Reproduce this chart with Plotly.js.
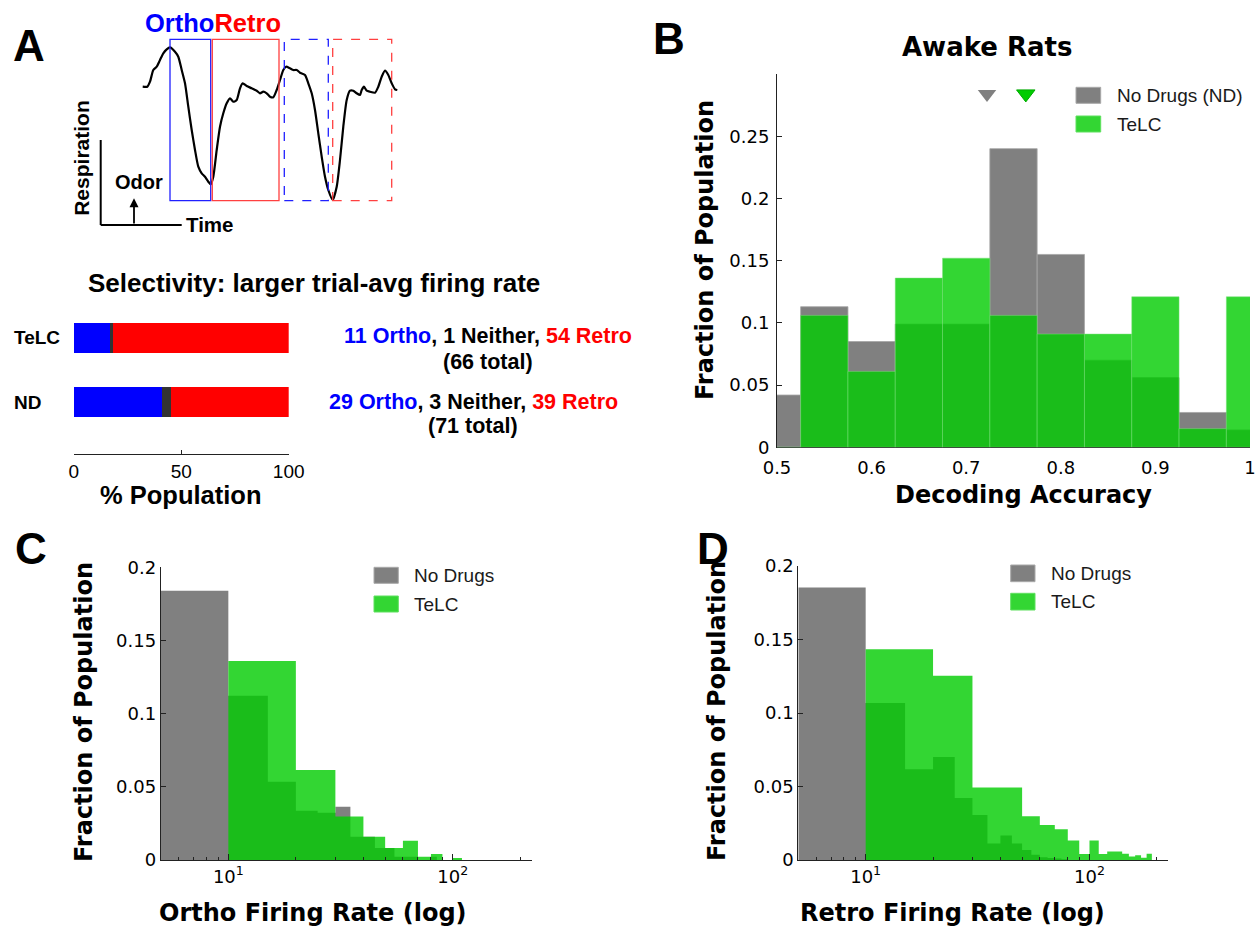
<!DOCTYPE html>
<html><head><meta charset="utf-8">
<script src="https://cdn.plot.ly/plotly-3.0.1.min.js"></script>
<style>html,body{margin:0;padding:0;background:#fff}#chart{width:1257px;height:926px}</style>
</head><body><div id="chart"></div>
<script>
// ---------------- DATA ----------------
// Panel A (top): respiration trace (time units, signal units)
const respTime = [82.7,87.3,90,93.3,96.7,100,103.3,106.7,110,115,118.3,121.7,125,128.3,131.7,135,138.3,141.7,145,148.3,150.7,153.3,156.7,160,163.3,166.7,170,173.3,176.7,180,182.7,186.7,191.7,196.7,200,203.3,206.7,210,213.3,216.7,220,223.3,226,230,233.3,236.7,240,245,248.3,251.7,255,258.3,261.7,265,268.3,272.7,276.7,280,283.3,286.7,290,293.3,296.7,300,301.7,304,306.7,310,315,318.3,321.7,325,328.3,331.7,335,337.3];
const respSignal = [113.3,113.3,118.3,130,133.3,140,146.7,150.7,152.7,148.3,143.3,130,116.7,93.3,70,50,33.3,26.7,23.3,18.3,15.7,23.3,50,73.3,86.7,96.7,101.7,98.3,100,111.7,116.7,114,111.7,109.3,106.7,108.3,106.7,103.3,102.7,110,120,130,133.3,131.7,130,130,127.3,125,116.7,106.7,90,66.7,43.3,23.3,10,0,13.3,40,73.3,100,109.3,109.3,106.7,105,110,113.3,109.3,108.3,107.3,113.3,123.3,129.3,125,116.7,110.7,110];
const orthoWindows = [[110,150.7],[224.3,268.3]];
const retroWindows = [[152.3,219],[272.7,331.7]];
const windowSignalRange = [-0.7,160.7];

// Panel A (bottom): selectivity counts
const groups = ['TeLC','ND'];
const orthoCounts = [11,29];
const neitherCounts = [1,3];
const retroCounts = [54,39];
const pctTicks = [0,50,100];

// Panel B: decoding accuracy histogram
const accBins = [0.5,0.55,0.6,0.65,0.7,0.75,0.8,0.85,0.9,0.95,1.0];
const ndAccFrac   = [0.042,0.113,0.085,0.099,0.099,0.240,0.155,0.070,0.056,0.028,0.014];
const telcAccFrac = [0,0.106,0.061,0.136,0.152,0.106,0.091,0.091,0.121,0.015,0.121];
const ndAccMean = 0.722, telcAccMean = 0.763;
const accTicks = [0.5,0.6,0.7,0.8,0.9,1];
const accTickText = ['0.5','0.6','0.7','0.8','0.9','1'];
const fracTicksB = [0,0.05,0.1,0.15,0.2,0.25,0.3];
const fracTickTextB = ['0','0.05','0.1','0.15','0.2','0.25',''];

// Panel C: ortho firing rate histogram (bin edges, Hz)
const ndOrthoEdges = [5,10,15,20,25,30,35,40,45,50,55,60,65,70,75,80,85];
const ndOrthoFrac  = [0.184,0.1123,0.0535,0.0337,0.0323,0.0364,0.0159,0.0159,0.0082,0.0082,0.0023,0.0023,0.0023,0,0,0.0023];
const telcOrthoEdges = [10,20,30,40,50,60,70,80,90,100,110];
const telcOrthoFrac  = [0.136,0.0615,0.0298,0.0159,0.0082,0.0132,0.0023,0.0041,0,0.0013];
const ndOrthoMean = 9.5, telcOrthoMean = 8.93;

// Panel D: retro firing rate histogram
const ndRetroEdges = [5,10,15,20,25,30,35,40,45,50,55,60,65,70,75,80];
const ndRetroFrac  = [0.1853,0.1068,0.0617,0.0700,0.0422,0.0306,0.0113,0.0166,0.0113,0.0068,0.0036,0.0018,0.0014,0.0011,0.0005];
const telcRetroEdges = [10,20,30,40,50,60,70,80,90,100,110,120,130,140,150,160,170,180,190];
const telcRetroFrac  = [0.1433,0.1254,0.0494,0.0494,0.0297,0.0238,0.0209,0.0132,0.0041,0.0132,0.0041,0.0057,0.0057,0.0043,0.0023,0.0032,0.0016,0.0043];
const ndRetroMean = 10.6, telcRetroMean = 23;

const rateTicks = [10,100];
const rateTickText = ['10<sup>1</sup>','10<sup>2</sup>'];
const rateMinorTicks = [6,7,8,9,20,30,40,50,60,70,80,90,200];
const fracTicksCD = [0,0.05,0.1,0.15,0.2];
const fracTickTextCD = ['0','0.05','0.1','0.15','0.2'];

const seriesNamesB = ['No Drugs (ND)','TeLC'];
const seriesNamesCD = ['No Drugs','TeLC'];

// ---------------- STYLE / LAYOUT ----------------
const W = 1257, H = 926;
const px = x => x / W;
const py = y => 1 - y / H;
const FA = 'Liberation Sans, Arial, Helvetica, sans-serif';
const FT = 'DejaVu Sans, Liberation Sans, sans-serif';
const GRAY = '#808080';
const GREEN = 'rgba(0,204,0,0.8)';
const GREEN_SOLID = '#33d633';
const BLUE = '#0000ff', RED = '#ff0000', DARK = '#333333';

function stepXY(edges, vals) {
  const x = [edges[0]], y = [0];
  for (let i = 0; i < vals.length; i++) {
    x.push(edges[i], edges[i+1]);
    y.push(vals[i], vals[i]);
  }
  x.push(edges[vals.length]); y.push(0);
  return {x, y};
}

const traces = [];

// Panel A respiration
traces.push({type:'scatter', mode:'lines', x:respTime, y:respSignal, xaxis:'x', yaxis:'y',
  line:{color:'#000', width:2.2, shape:'spline', smoothing:0.6}, hoverinfo:'skip'});

// Panel A bars (stacked using base)
const totals = groups.map((g,i)=>orthoCounts[i]+neitherCounts[i]+retroCounts[i]);
const orthoPct = orthoCounts.map((c,i)=>100*c/totals[i]);
const neitherPct = neitherCounts.map((c,i)=>100*c/totals[i]);
const retroPct = retroCounts.map((c,i)=>100*c/totals[i]);
const barW = 0.464;
traces.push({type:'bar', orientation:'h', y:groups, x:orthoPct, base:groups.map(()=>0), width:barW,
  xaxis:'x2', yaxis:'y2', marker:{color:BLUE, line:{width:0}}});
traces.push({type:'bar', orientation:'h', y:groups, x:neitherPct, base:orthoPct, width:barW,
  xaxis:'x2', yaxis:'y2', marker:{color:DARK, line:{width:0}}});
traces.push({type:'bar', orientation:'h', y:groups, x:retroPct, base:orthoPct.map((v,i)=>v+neitherPct[i]), width:barW,
  xaxis:'x2', yaxis:'y2', marker:{color:RED, line:{width:0}}});

// Panel B
traces.push({type:'bar', x:accBins, y:ndAccFrac, width:0.05, xaxis:'x3', yaxis:'y3',
  marker:{color:GRAY, line:{color:'#a5a5a5', width:0.8}}});
traces.push({type:'bar', x:accBins, y:telcAccFrac, width:0.05, xaxis:'x3', yaxis:'y3',
  marker:{color:GREEN, line:{color:'rgba(120,225,120,0.6)', width:0.8}}});
traces.push({type:'scatter', mode:'markers', x:[ndAccMean], y:[0.284], xaxis:'x3', yaxis:'y3', cliponaxis:false,
  marker:{symbol:'triangle-down', size:16, color:GRAY, line:{width:0}}});
traces.push({type:'scatter', mode:'markers', x:[telcAccMean], y:[0.284], xaxis:'x3', yaxis:'y3', cliponaxis:false,
  marker:{symbol:'triangle-down', size:16, color:'#00cc00', line:{color:'#00aa00', width:1}}});

// Panels C, D
function histPair(ndE, ndV, tE, tV, xa, ya, ndMean, tMean) {
  const a = stepXY(ndE, ndV), b = stepXY(tE, tV);
  traces.push({type:'scatter', mode:'lines', x:a.x, y:a.y, xaxis:xa, yaxis:ya, fill:'toself',
    fillcolor:GRAY, line:{width:0, color:'rgba(0,0,0,0)'}, hoverinfo:'skip'});
  traces.push({type:'scatter', mode:'lines', x:b.x, y:b.y, xaxis:xa, yaxis:ya, fill:'toself',
    fillcolor:GREEN, line:{width:0, color:'rgba(0,0,0,0)'}, hoverinfo:'skip'});
  traces.push({type:'scatter', mode:'markers', x:[ndMean], y:[0.202], xaxis:xa, yaxis:ya, cliponaxis:false,
    marker:{symbol:'triangle-down', size:13, color:GRAY, line:{width:0}}});
  traces.push({type:'scatter', mode:'markers', x:[tMean], y:[0.202], xaxis:xa, yaxis:ya, cliponaxis:false,
    marker:{symbol:'triangle-down', size:13, color:'#00cc00', line:{color:'#00aa00', width:1}}});
}
histPair(ndOrthoEdges, ndOrthoFrac, telcOrthoEdges, telcOrthoFrac, 'x4', 'y4', ndOrthoMean, telcOrthoMean);
histPair(ndRetroEdges, ndRetroFrac, telcRetroEdges, telcRetroFrac, 'x5', 'y5', ndRetroMean, telcRetroMean);

// axes
const hidden = {visible:false, fixedrange:true};
const axLine = {showline:true, linecolor:'#222', linewidth:1, showgrid:false, zeroline:false, fixedrange:true, tickcolor:'#222'};
const tickFontT = {family:FT, size:18, color:'#000'};

const layout = {
  width:W, height:H, margin:{l:0,r:0,t:0,b:0}, paper_bgcolor:'#fff', plot_bgcolor:'rgba(0,0,0,0)',
  showlegend:false, barmode:'overlay', bargap:0,
  xaxis: Object.assign({domain:[px(60),px(420)], range:[0,360], anchor:'y'}, hidden),
  yaxis: Object.assign({domain:[py(240),py(0)], range:[-40,200], anchor:'x'}, hidden),
  xaxis2: Object.assign({}, axLine, {domain:[px(73.7),px(288.7)], range:[0,100], anchor:'y2',
    ticks:'inside', ticklen:4, tickvals:pctTicks, ticktext:pctTicks.map(String),
    tickfont:{family:FA, size:19, color:'#000'}}),
  yaxis2: {domain:[py(454),py(305)], type:'category', categoryarray:['ND','TeLC'], range:[-0.8,1.506],
    anchor:'x2', visible:false, fixedrange:true},
  xaxis3: Object.assign({}, axLine, {domain:[px(777),px(1250)], range:[0.5,1], anchor:'y3', layer:'below traces',
    ticks:'inside', ticklen:5, tickvals:accTicks, ticktext:accTickText, tickfont:tickFontT, ticklabelstandoff:4}),
  yaxis3: Object.assign({}, axLine, {domain:[py(447.3),py(74)], range:[0,0.3], anchor:'x3', layer:'below traces',
    ticks:'inside', ticklen:5, tickvals:fracTicksB, ticktext:fracTickTextB, tickfont:tickFontT, ticklabelstandoff:3}),
  xaxis4: Object.assign({}, axLine, {domain:[px(160.8),px(531.7)], type:'log', range:[Math.log10(5),Math.log10(225)], anchor:'y4',
    layer:'above traces', ticks:'inside', ticklen:6, tickvals:rateTicks, ticktext:rateTickText, tickfont:tickFontT,
    minor:{ticks:'inside', ticklen:3, tickvals:rateMinorTicks, tickcolor:'#222'}}),
  yaxis4: Object.assign({}, axLine, {domain:[py(860),py(567.3)], range:[0,0.2], anchor:'x4', layer:'above traces',
    ticks:'inside', ticklen:5, tickvals:fracTicksCD, ticktext:fracTickTextCD, tickfont:tickFontT}),
  xaxis5: Object.assign({}, axLine, {domain:[px(798.3),px(1168.3)], type:'log', range:[Math.log10(5),Math.log10(225)], anchor:'y5',
    layer:'above traces', ticks:'inside', ticklen:6, tickvals:rateTicks, ticktext:rateTickText, tickfont:tickFontT,
    minor:{ticks:'inside', ticklen:3, tickvals:rateMinorTicks, tickcolor:'#222'}}),
  yaxis5: Object.assign({}, axLine, {domain:[py(860),py(566)], range:[0,0.2], anchor:'x5', layer:'above traces',
    ticks:'inside', ticklen:5, tickvals:fracTicksCD, ticktext:fracTickTextCD, tickfont:tickFontT}),
  shapes: [], annotations: []
};

// respiration windows
orthoWindows.forEach((w,i)=>layout.shapes.push({type:'rect', xref:'x', yref:'y', x0:w[0], x1:w[1],
  y0:windowSignalRange[0], y1:windowSignalRange[1], line:{color:'#2020ff', width:1.3, dash: i===0?'solid':'dash'}}));
retroWindows.forEach((w,i)=>layout.shapes.push({type:'rect', xref:'x', yref:'y', x0:w[0], x1:w[1],
  y0:windowSignalRange[0], y1:windowSignalRange[1], line:{color:'#ff4040', width:1.3, dash: i===0?'solid':'dash'}}));
// respiration scale axes
layout.shapes.push({type:'line', xref:'x', yref:'y', x0:40.7, x1:40.7, y0:60, y1:-25, line:{color:'#000', width:2}});
layout.shapes.push({type:'line', xref:'x', yref:'y', x0:40.7, x1:121.7, y0:-25, y1:-25, line:{color:'#000', width:2}});

const A = layout.annotations;
function T(text, x, y, size, opts) {
  return Object.assign({text, x:px(x), y:py(y), xref:'paper', yref:'paper', showarrow:false,
    xanchor:'center', yanchor:'middle', font:{family:FA, size, color:'#000'}}, opts||{});
}
A.push({x:74, y:1.7, ax:74, ay:-25, xref:'x', yref:'y', axref:'x', ayref:'y', showarrow:true,
  arrowhead:2, arrowsize:1, arrowwidth:1.8, arrowcolor:'#000', text:''});

// panel letters
A.push(T('<b>A</b>', 29, 46, 44));
A.push(T('<b>B</b>', 669, 39, 44));
A.push(T('<b>C</b>', 31, 548, 44));
A.push(T('<b>D</b>', 713, 548, 44));

// panel A text
A.push(T('<b><span style="color:#0000ff">Ortho</span><span style="color:#ff0000">Retro</span></b>', 213.3, 23.3, 25.5));
A.push(T('<b>Respiration</b>', 81.5, 158.3, 21, {textangle:-90}));
A.push(T('<b>Odor</b>', 139, 182, 20));
A.push(T('<b>Time</b>', 209, 225, 20.5));
A.push(T('<b>Selectivity: larger trial-avg firing rate</b>', 314, 283, 26));
groups.forEach((g,i)=>{
  A.push({text:'<b>'+g+'</b>', x:px(11.7), xref:'paper', y:g, yref:'y2', xanchor:'left', yanchor:'middle',
    showarrow:false, font:{family:FA, size:19, color:'#000'}});
});
const line1Y = [335.7, 401.7], line2Y = [361.7, 426], lineX = [487.5, 473.3];
groups.forEach((g,i)=>{
  A.push(T('<b><span style="color:#0000ff">'+orthoCounts[i]+' Ortho</span>, '+neitherCounts[i]+' Neither, <span style="color:#ff0000">'+retroCounts[i]+' Retro</span></b>', lineX[i], line1Y[i], 21.5));
  A.push(T('<b>('+totals[i]+' total)</b>', lineX[i], line2Y[i], 21.5));
});
A.push(T('<b>% Population</b>', 181, 495, 25.5));

// panel B text
A.push(T('<b>Awake Rats</b>', 987, 47, 26, {font:{family:FT, size:26, color:'#000'}}));
A.push(T('<b>Fraction of Population</b>', 705, 250, 24, {textangle:-90, font:{family:FT, size:24, color:'#000'}}));
A.push(T('<b>Decoding Accuracy</b>', 1023, 495, 24, {font:{family:FT, size:24, color:'#000'}}));
// panel C/D text
A.push(T('<b>Fraction of Population</b>', 84, 712, 24, {textangle:-90, font:{family:FT, size:24, color:'#000'}}));
A.push(T('<b>Ortho Firing Rate (log)</b>', 312.5, 913, 24, {font:{family:FT, size:24, color:'#000'}}));
A.push(T('<b>Fraction of Population</b>', 717, 711, 24, {textangle:-90, font:{family:FT, size:24, color:'#000'}}));
A.push(T('<b>Retro Firing Rate (log)</b>', 952.5, 913, 24, {font:{family:FT, size:24, color:'#000'}}));

// legends
function legend(names, sx0, sx1, rows, textX) {
  const cols = [GRAY, GREEN_SOLID];
  const edge = ['#a8a8a8', '#5ee05e'];
  names.forEach((n,i)=>{
    layout.shapes.push({type:'rect', xref:'paper', yref:'paper', x0:px(sx0), x1:px(sx1),
      y0:py(rows[i][1]), y1:py(rows[i][0]), fillcolor:cols[i], line:{color:edge[i], width:1}});
    A.push(T(n, textX, (rows[i][0]+rows[i][1])/2, 19, {xanchor:'left', font:{family:FA, size:19, color:'#1a1a1a'}}));
  });
}
legend(seriesNamesB, 1076, 1100.7, [[87.3,103.3],[116,132]], 1115);
legend(seriesNamesCD, 374, 398.3, [[567.3,583.3],[596,612]], 412.3);
legend(seriesNamesCD, 1010.7, 1035, [[565,581.7],[593.3,610]], 1049);

Plotly.newPlot('chart', traces, layout, {staticPlot:true, displayModeBar:false});
</script></body></html>
